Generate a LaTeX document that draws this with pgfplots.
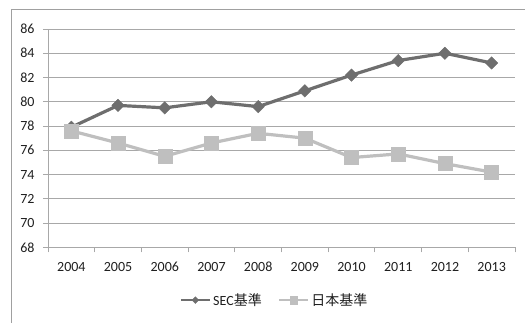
\documentclass[border=0pt]{standalone}
\usepackage{fontspec}
\setmainfont{Carlito}
\newfontfamily\cjk{Noto Sans CJK JP}
\usepackage{pgfplots}
\pgfplotsset{compat=1.18}
\usetikzlibrary{calc}

\definecolor{secgray}{HTML}{6E6E6E}
\definecolor{jpgray}{HTML}{BFBFBF}
\definecolor{gridgray}{HTML}{A8A8A8}
\definecolor{framegray}{HTML}{A0A0A0}

\begin{document}
\begin{tikzpicture}
\begin{axis}[
  scale only axis, width=467pt, height=218.3pt,
  xmin=-0.5, xmax=9.5, ymin=68, ymax=86,
  ytick={68,70,...,86},
  xtick={0,...,9},
  xticklabels={2004,2005,2006,2007,2008,2009,2010,2011,2012,2013},
  minor xtick={-0.5,0.5,...,9.5},
  major x tick style={draw=none},
  minor x tick style={draw=gridgray, line width=0.8pt},
  minor tick length=5pt,
  major tick length=5pt,
  ymajorgrids,
  grid style={gridgray, line width=0.8pt},
  axis x line*=bottom, axis y line*=left,
  axis line style={gridgray, line width=0.8pt},
  tick align=outside,
  y tick style={draw=gridgray, line width=0.8pt},
  /pgf/number format/assume math mode=true,
  /pgf/number format/1000 sep={},
  ticklabel style={font=\fontsize{14}{16}\selectfont, text=black!88},
  yticklabel style={xshift=-5pt},
  xticklabel style={yshift=-6pt, text height=9.5pt, text depth=0pt},
  legend style={draw=none, fill=none, at={(0.485,-0.242)}, anchor=center,
    font=\fontsize{14}{16}\selectfont, text=black!88,
    /tikz/every even column/.append style={column sep=14pt}},
  legend columns=2,
  legend image code/.code={
    \draw[mark repeat=2, mark phase=2, #1, line width=2.6pt,
          every mark/.append style={scale=0.55}]
      plot coordinates {(0pt,0pt) (14.5pt,0pt) (29pt,0pt)};
  },
]
\addplot[secgray, line width=3.2pt, mark=square*, mark size=4.4pt,
  mark options={rotate=45, line width=0.4pt, fill=secgray, draw=secgray}]
  coordinates {(0,77.9) (1,79.7) (2,79.5) (3,80.0) (4,79.6)
               (5,80.9) (6,82.2) (7,83.4) (8,84.0) (9,83.2)};
\addlegendentry{SEC{\cjk 基準}}
\addplot[jpgray, line width=3.2pt, mark=square*, mark size=7pt,
  mark options={line width=0.4pt, fill=jpgray, draw=jpgray}]
  coordinates {(0,77.6) (1,76.6) (2,75.5) (3,76.6) (4,77.4)
               (5,77.0) (6,75.4) (7,75.7) (8,74.9) (9,74.2)};
\addlegendentry{{\cjk 日本基準}}
\coordinate (bl) at (rel axis cs:0,0);
\end{axis}
% page area and chart frame, measured from the plot's lower-left corner
\pgfresetboundingbox
\path[use as bounding box] ($(bl)+(-48pt,-74.7pt)$) rectangle ($(bl)+(477pt,247.3pt)$);
\draw[framegray, line width=0.9pt]
  ($(bl)+(-37pt,-80pt)$) -- ($(bl)+(-37pt,237.8pt)$) -- ($(bl)+(480pt,237.8pt)$);
\end{tikzpicture}
\end{document}
